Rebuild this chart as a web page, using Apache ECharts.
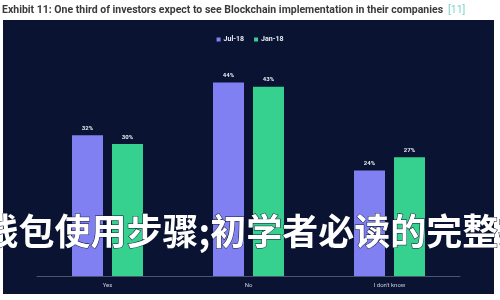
<!DOCTYPE html>
<html><head><meta charset="utf-8">
<script src="https://cdn.jsdelivr.net/npm/echarts@6/dist/echarts.min.js"></script>
<style>html,body{margin:0;padding:0;background:#fff}#c{width:500px;height:300px}</style>
</head><body><div id="c"></div>
<script>
const categories = ["Yes", "No", "I don't know"];
const seriesNames = ["Jul-18", "Jan-18"];
const jul18 = [32, 44, 24];
const jan18 = [30, 43, 27];
const titleText = "Exhibit 11: One third of investors expect to see Blockchain implementation in their companies";
const titleRef = "[11]";
const overlayText = "钱包使用步骤;初学者必读的完整指南";

const chart = echarts.init(document.getElementById('c'), null, {renderer: 'canvas'});
const lbl = {show: true, position: 'top', distance: 4, formatter: '{c}%', color: '#e8ecf5', fontSize: 6, fontFamily: 'Roboto', fontWeight: 'bold'};
chart.setOption({
  backgroundColor: '#ffffff',
  animation: false,
  title: {
    left: 2, top: 0, padding: [1, 0, 0, 0],
    text: '{a|' + titleText + '} {b|' + titleRef + '}',
    textStyle: {
      rich: {
        a: {fontFamily: 'Roboto', fontWeight: 'bold', fontSize: 10.5, color: '#3a3a3a'},
        b: {fontFamily: 'Roboto', fontWeight: 'normal', fontSize: 10.5, color: '#7fd3c6'}
      }
    }
  },
  graphic: [
    {type: 'rect', z: -10, silent: true, shape: {x: 3, y: 20, width: 491, height: 274},
     style: {fill: '#0a1331'}},
    {type: 'text', z: 100, silent: true, left: -18, top: 213,
     style: {text: overlayText, fill: '#ffffff', font: 'bold 36px "Noto Sans CJK SC"',
             stroke: '#0a1331', lineWidth: 1}}
  ],
  legend: {
    top: 31, left: 'center', itemWidth: 4, itemHeight: 4, itemGap: 10, icon: 'rect',
    textStyle: {color: '#e8ecf5', fontSize: 7, fontWeight: 'bold', fontFamily: 'Roboto', padding: [0,0,0,-2]},
    data: seriesNames
  },
  grid: {left: 37, right: 40, top: 56, bottom: 24},
  xAxis: {
    type: 'category', data: categories,
    axisLine: {lineStyle: {color: '#4c5672', width: 1}},
    axisTick: {show: false},
    axisLabel: {color: '#c9cfdc', fontSize: 6, fontFamily: 'Roboto', margin: 6}
  },
  yAxis: {type: 'value', min: 0, max: 50, show: false, splitLine: {show: false}},
  series: [
    {name: seriesNames[0], type: 'bar', data: jul18, barWidth: 31, barGap: '29%',
     itemStyle: {color: '#8080f2'}, label: lbl},
    {name: seriesNames[1], type: 'bar', data: jan18, barWidth: 31,
     itemStyle: {color: '#36d08f'}, label: lbl}
  ]
});
</script></body></html>
